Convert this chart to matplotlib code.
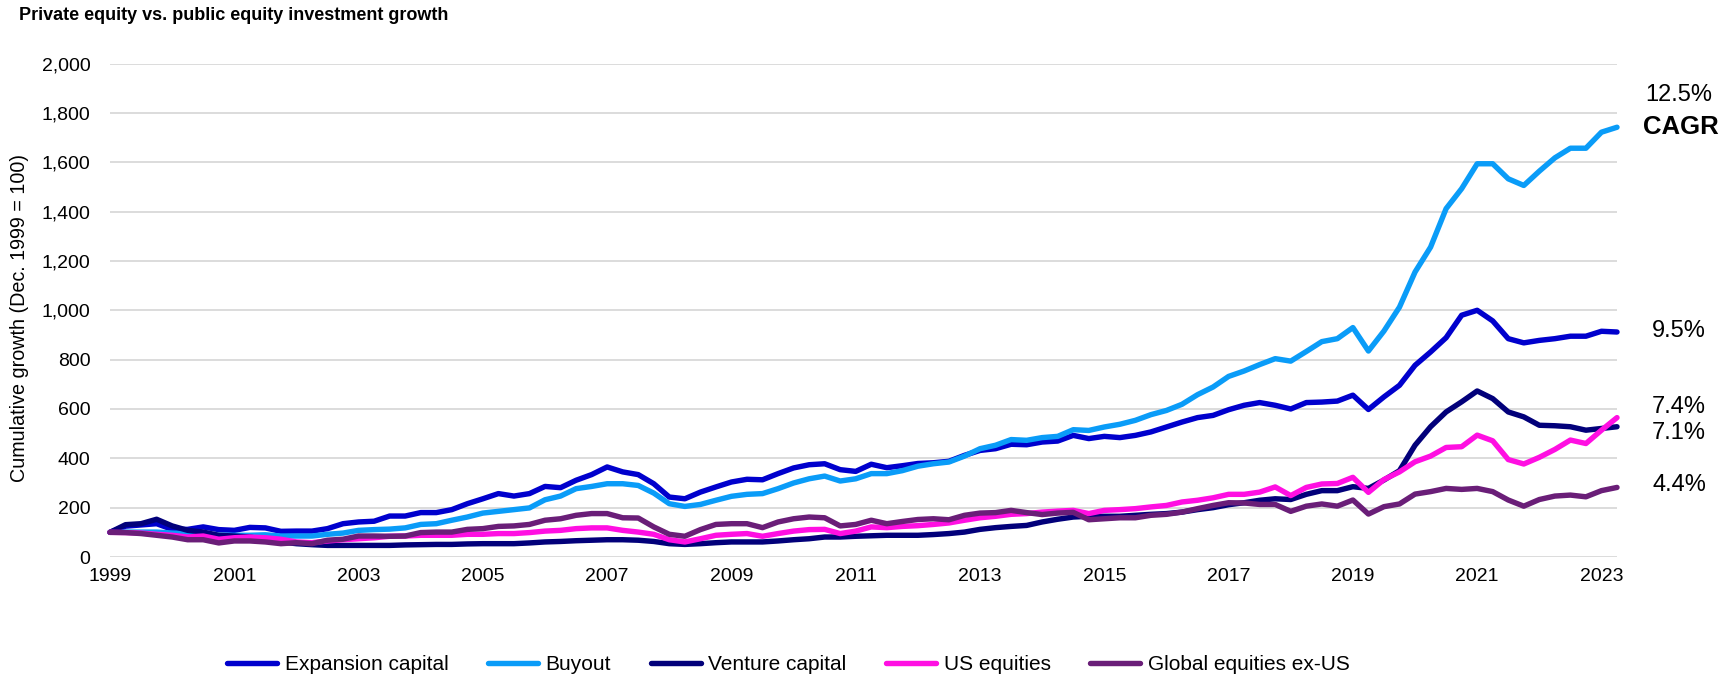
import matplotlib
matplotlib.use("Agg")
import matplotlib.pyplot as plt
import numpy as np

plt.rcParams['font.family'] = ['Liberation Sans', 'DejaVu Sans']

# Quarterly index values, Dec 1999 = 100
expansion = [100, 125, 130, 135, 112, 112, 122, 111, 108, 120, 118, 104, 105, 105, 115, 135,
             142, 145, 166, 166, 180, 180, 192, 216, 236, 257, 247, 257, 286, 281, 311, 334,
             365, 345, 334, 297, 243, 236, 263, 284, 304, 315, 313, 338, 361, 374, 378, 354,
             347, 376, 362, 370, 379, 382, 388, 412, 432, 439, 457, 455, 466, 470, 493, 480,
             489, 484, 493, 507, 527, 547, 565, 574, 597, 615, 626, 615, 600, 626, 628, 632,
             656, 598, 649, 696, 777, 831, 889, 980, 1000, 957, 885, 868, 878, 885, 895, 895,
             915, 912]
buyout = [100, 101, 101, 101, 97, 95, 92, 88, 88, 88, 90, 85, 85, 85, 92, 97,
          108, 111, 113, 118, 132, 135, 149, 162, 178, 185, 192, 199, 232, 247, 277, 286,
          297, 297, 290, 259, 216, 205, 213, 230, 246, 254, 257, 277, 300, 317, 328, 308,
          317, 338, 338, 350, 368, 378, 385, 409, 439, 453, 476, 473, 484, 489, 516, 513,
          527, 538, 554, 577, 594, 619, 658, 689, 732, 754, 780, 804, 794, 833, 873, 885,
          930, 835, 916, 1013, 1155, 1256, 1412, 1493, 1594, 1594, 1533, 1506, 1564, 1618, 1657, 1657,
          1722, 1742]
venture = [100, 131, 135, 153, 126, 108, 101, 88, 85, 81, 70, 61, 54, 50, 47, 47,
           47, 47, 47, 49, 50, 51, 51, 53, 54, 54, 54, 57, 61, 63, 66, 68,
           70, 70, 68, 63, 54, 51, 54, 58, 61, 61, 61, 65, 70, 74, 81, 81,
           84, 86, 88, 88, 88, 91, 95, 101, 112, 119, 124, 128, 142, 153, 162, 165,
           165, 165, 169, 173, 176, 182, 192, 200, 212, 220, 230, 236, 233, 254, 269, 269,
           285, 278, 312, 350, 453, 528, 588, 629, 673, 642, 588, 568, 534, 532, 528, 514,
           521, 528]
us_equities = [100, 99, 97, 92, 88, 81, 85, 72, 78, 81, 78, 72, 61, 58, 65, 70,
               74, 78, 84, 85, 88, 88, 88, 92, 92, 95, 95, 99, 105, 108, 115, 118,
               118, 108, 101, 92, 70, 61, 74, 88, 92, 95, 84, 95, 105, 111, 112, 95,
               105, 122, 119, 124, 127, 132, 138, 149, 159, 165, 173, 176, 182, 186, 189, 176,
               189, 192, 196, 203, 209, 223, 230, 240, 254, 254, 263, 284, 249, 282, 296, 298,
               323, 262, 314, 345, 386, 409, 444, 447, 494, 471, 395, 377, 404, 436, 474, 460,
               514, 565]
global_ex_us = [100, 99, 95, 88, 81, 70, 70, 57, 65, 65, 61, 54, 58, 54, 68, 72,
                85, 85, 84, 85, 99, 101, 101, 112, 115, 124, 126, 132, 149, 155, 169, 176,
                176, 159, 158, 122, 92, 84, 111, 132, 135, 135, 119, 142, 155, 162, 159, 126,
                132, 149, 135, 144, 152, 155, 151, 169, 178, 180, 189, 180, 172, 178, 181, 151,
                155, 159, 159, 169, 173, 182, 196, 209, 220, 219, 213, 213, 185, 206, 215, 206,
                231, 174, 204, 215, 255, 265, 278, 274, 278, 265, 231, 206, 233, 247, 251, 244,
                269, 282]

series_names = ["Expansion capital", "Buyout", "Venture capital", "US equities", "Global equities ex-US"]
series_colors = ["#0000CD", "#0A9CF8", "#02007A", "#FF0FE2", "#6A1E78"]
year_labels = ["1999", "2001", "2003", "2005", "2007", "2009", "2011", "2013",
               "2015", "2017", "2019", "2021", "2023"]
cagr_labels = ["9.5%", "12.5%", "7.4%", "7.1%", "4.4%"]
y_ticks = [0, 200, 400, 600, 800, 1000, 1200, 1400, 1600, 1800, 2000]

W, H = 1729, 679
fig = plt.figure(figsize=(W / 100, H / 100), dpi=100)
ax = fig.add_axes([110 / W, 1 - 557 / H, (1617 - 110) / W, (557 - 63.6) / H])

all_series = [expansion, buyout, venture, us_equities, global_ex_us]
x = np.arange(len(expansion))
for vals, name, col in zip(all_series, series_names, series_colors):
    ax.plot(x, vals, color=col, lw=3.9, label=name, solid_capstyle='round',
            solid_joinstyle='round', clip_on=False, zorder=3)

ax.set_xlim(0, len(expansion) - 1)
ax.set_ylim(0, 2000)
ax.set_yticks(y_ticks)
ax.set_yticklabels([f"{v:,}" for v in y_ticks], fontsize=14)
ax.set_xticks(np.arange(0, 8 * len(year_labels), 8))
ax.set_xticklabels(year_labels, fontsize=14)
ax.tick_params(axis='both', length=0)
ax.tick_params(axis='y', pad=14)
ax.tick_params(axis='x', pad=8)
ax.grid(axis='y', color='#D9D9D9', lw=1.3, zorder=0)
ax.set_axisbelow(True)
for s in ax.spines.values():
    s.set_visible(False)

# CAGR annotations at right
xr = 1679 / W
fig.text(xr, 1 - 95 / H, cagr_labels[1], fontsize=17, ha='center', va='center')
fig.text(1681 / W, 1 - 127 / H, "CAGR", fontsize=18.5, fontweight='bold', ha='center', va='center')
fig.text(xr, 1 - 331 / H, cagr_labels[0], fontsize=17, ha='center', va='center')
fig.text(xr, 1 - 407 / H, cagr_labels[2], fontsize=17, ha='center', va='center')
fig.text(xr, 1 - 433 / H, cagr_labels[3], fontsize=17, ha='center', va='center')
fig.text(xr, 1 - 485 / H, cagr_labels[4], fontsize=17, ha='center', va='center')

fig.text(20 / W, 1 - 318 / H, "Cumulative growth (Dec. 1999 = 100)", rotation=90,
         fontsize=14.2, ha='center', va='center')
fig.text(19 / W, 1 - 15 / H, "Private equity vs. public equity investment growth",
         fontsize=13, fontweight='bold', ha='left', va='center')

fig.legend(loc='center', bbox_to_anchor=(0.456, 1 - 665 / H), ncol=5, frameon=False,
           fontsize=15, handlelength=2.4, handletextpad=0.37, columnspacing=1.9)

fig.savefig("out.png", dpi=100)
